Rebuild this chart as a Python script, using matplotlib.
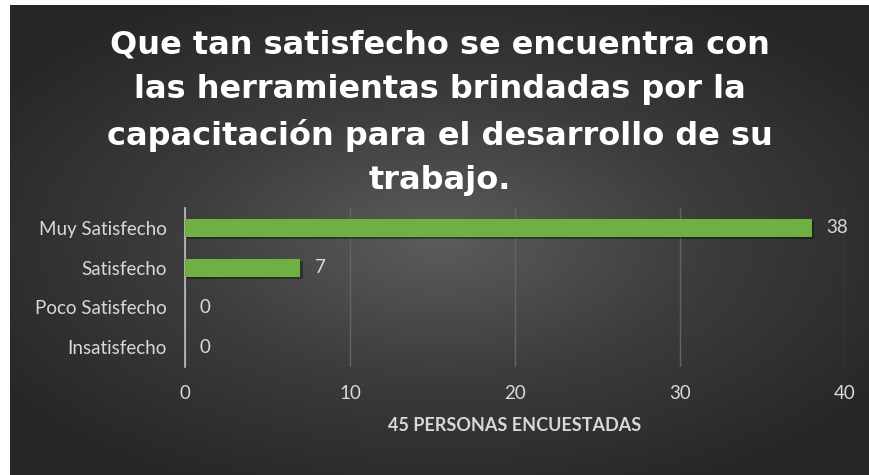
import numpy as np
import matplotlib.pyplot as plt
from matplotlib.colors import LinearSegmentedColormap

categories = ["Muy Satisfecho", "Satisfecho", "Poco Satisfecho", "Insatisfecho"]
values = [38, 7, 0, 0]
xticks = [0, 10, 20, 30, 40]
title = ("Que tan satisfecho se encuentra con\n"
         "las herramientas brindadas por la\n"
         "capacitación para el desarrollo de su\n"
         "trabajo.")
xlabel = "45 PERSONAS ENCUESTADAS"

W, H = 870, 475
fig = plt.figure(figsize=(W / 100, H / 100), dpi=100, facecolor="white")

# dark panel with a radial gradient, leaving a thin white strip top/left
px0, py0 = 10 / W, 0
pw, ph = 1 - px0, 1 - 5 / H
bg = fig.add_axes([px0, py0, pw, ph])
bg.set_axis_off()
yy, xx = np.mgrid[-1:1:300j, -1:1:500j]
r = np.sqrt((xx / 1.0) ** 2 + (yy / 0.95) ** 2)
r = np.clip(r / 1.25, 0, 1)
cmap = LinearSegmentedColormap.from_list("bg", ["#5c5c5c", "#3c3c3c", "#262626"])
bg.imshow(r, cmap=cmap, aspect="auto", extent=[0, 1, 0, 1], vmin=0, vmax=1,
          interpolation="bilinear")
bg.set_xlim(0, 1)
bg.set_ylim(0, 1)

fig.text(0.5 + px0 / 2, 1 - 113 / H, title, ha="center", va="center",
         color="white", fontsize=23, fontweight="bold", family="DejaVu Sans",
         linespacing=1.55)

ax_l, ax_r = 185 / W, 845 / W
ax_t, ax_b = 208 / H, 367 / H
ax = fig.add_axes([ax_l, 1 - ax_b, ax_r - ax_l, ax_b - ax_t])
ax.patch.set_alpha(0)

y = np.arange(len(categories))
# soft shadow under each bar
ax.barh(y + 0.06, values, height=0.45, left=0.15, color="black", alpha=0.35,
        zorder=2)
bars = ax.barh(y, values, height=0.45, color="#6fb042", zorder=3)
for v, yi in zip(values, y):
    ax.text(v + 0.85, yi, str(v), va="center", ha="left", color="#d9d9d9",
            fontsize=13.5, family="Lato")

ax.set_xlim(0, 40)
ax.set_ylim(len(categories) - 0.5, -0.5)
ax.set_xticks(xticks)
ax.set_xticklabels([str(t) for t in xticks])
ax.set_yticks(y)
ax.set_yticklabels(categories)
ax.tick_params(axis="both", length=0, colors="#d9d9d9", labelsize=13.5)
ax.tick_params(axis="x", pad=13)
ax.tick_params(axis="y", pad=13)
for lbl in ax.get_xticklabels() + ax.get_yticklabels():
    lbl.set_family("Lato")
ax.xaxis.grid(True, color="#646464", linewidth=1, zorder=0)
ax.set_axisbelow(True)
for s in ["top", "right", "bottom"]:
    ax.spines[s].set_visible(False)
ax.spines["left"].set_color("#bfbfbf")
ax.spines["left"].set_linewidth(1.2)
ax.set_xlabel(xlabel, color="#d9d9d9", fontsize=13, fontweight="bold",
              family="Lato", labelpad=11)

fig.savefig("out.png", dpi=100, facecolor="white")
